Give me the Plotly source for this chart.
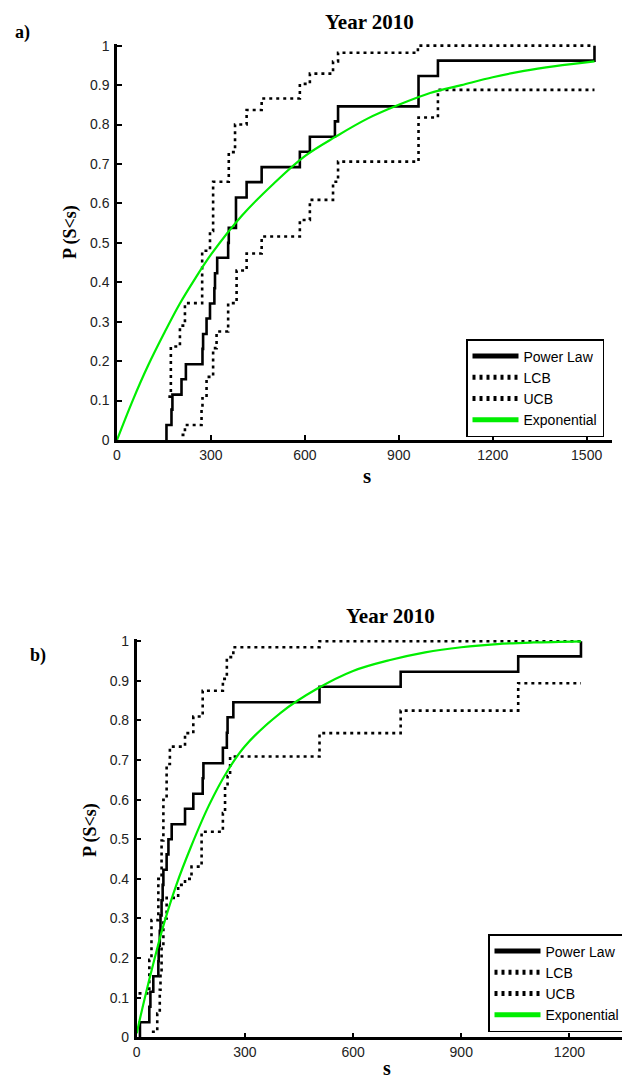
import plotly.graph_objects as go

# ---------------- Panel a) data ----------------
a_power_x = [158, 158, 174, 177, 206, 220, 273, 275, 286, 297, 311, 313, 320, 355, 357, 380, 414, 462, 584, 616, 696, 706, 963, 1025, 1525]
a_power_y = [0, 0.038, 0.077, 0.115, 0.154, 0.192, 0.231, 0.269, 0.308, 0.346, 0.385, 0.423, 0.462, 0.5, 0.538, 0.615, 0.654, 0.692, 0.731, 0.769, 0.808, 0.846, 0.923, 0.962, 1.0]

a_lcb_x = [206, 217, 270, 273, 286, 307, 318, 355, 382, 414, 462, 584, 616, 690, 706, 963, 1025, 1525]
a_lcb_y = [0.013, 0.038, 0.077, 0.106, 0.16, 0.233, 0.275, 0.347, 0.43, 0.473, 0.516, 0.558, 0.609, 0.655, 0.706, 0.818, 0.888, 0.888]

a_ucb_x = [164, 172, 201, 217, 272, 297, 307, 357, 377, 414, 462, 584, 616, 690, 706, 961, 1525]
a_ucb_y = [0.11, 0.237, 0.29, 0.347, 0.48, 0.53, 0.655, 0.73, 0.80, 0.837, 0.866, 0.903, 0.929, 0.96, 0.982, 1.0, 1.0]

a_exp_x = [0, 50, 100, 150, 200, 250, 300, 400, 500, 600, 700, 800, 900, 1000, 1100, 1200, 1300, 1400, 1525]
a_exp_y = [0, 0.10, 0.19, 0.27, 0.345, 0.41, 0.47, 0.57, 0.65, 0.72, 0.77, 0.815, 0.85, 0.88, 0.90, 0.92, 0.936, 0.948, 0.96]

# ---------------- Panel b) data ----------------
b_power_x = [9, 9, 35, 38, 46, 60, 61, 64, 66, 69, 72, 74, 83, 88, 97, 134, 157, 183, 185, 239, 250, 252, 268, 507, 732, 1058, 1232]
b_power_y = [0, 0.038, 0.077, 0.115, 0.154, 0.192, 0.231, 0.269, 0.308, 0.346, 0.385, 0.423, 0.462, 0.5, 0.538, 0.577, 0.615, 0.654, 0.692, 0.731, 0.769, 0.808, 0.846, 0.885, 0.923, 0.962, 1.0]

b_lcb_x = [42, 57, 64, 66, 69, 74, 83, 115, 134, 152, 180, 239, 245, 252, 259, 507, 732, 1058, 1232]
b_lcb_y = [0.014, 0.06, 0.12, 0.16, 0.23, 0.30, 0.352, 0.385, 0.40, 0.431, 0.519, 0.566, 0.633, 0.66, 0.709, 0.768, 0.825, 0.894, 0.894]

b_ucb_x = [5, 35, 41, 60, 69, 74, 83, 92, 134, 157, 183, 239, 250, 268, 507, 1232]
b_ucb_y = [0.111, 0.196, 0.296, 0.40, 0.497, 0.60, 0.69, 0.734, 0.768, 0.81, 0.875, 0.905, 0.96, 0.985, 1.0, 1.0]

b_exp_x = [0, 20, 50, 75, 110, 150, 200, 250, 300, 400, 500, 600, 700, 800, 900, 1000, 1100, 1232]
b_exp_y = [0.01, 0.09, 0.2, 0.285, 0.385, 0.48, 0.585, 0.67, 0.735, 0.82, 0.88, 0.925, 0.952, 0.972, 0.985, 0.993, 0.997, 1.0]

series_names = ["Power Law", "LCB", "UCB", "Exponential"]
a_ticks_x = [0, 300, 600, 900, 1200, 1500]
b_ticks_x = [0, 300, 600, 900, 1200]
ticks_y = [0, 0.1, 0.2, 0.3, 0.4, 0.5, 0.6, 0.7, 0.8, 0.9, 1]
ticks_y_text = ["0", "0.1", "0.2", "0.3", "0.4", "0.5", "0.6", "0.7", "0.8", "0.9", "1"]

GREEN = "#00ee00"
DOT = "3px,4px"
SERIF = "Liberation Serif, Times New Roman, serif"
SANS = "Arial, Liberation Sans, sans-serif"

# page body adds an 8px margin: figure is laid out in page pixels minus that offset
OFF = 8
W, H = 630 - OFF, 1082 - OFF

def px(X):
    return (X - OFF) / W

def py(Y):
    return 1 - (Y - OFF) / H

fig = go.Figure()

def add_panel(pxs, pys, lx, ly, ux, uy, ex, ey, xa, ya, leg):
    fig.add_trace(go.Scatter(x=pxs, y=pys, mode="lines", line=dict(color="black", width=2.6, shape="hv"),
                             name=series_names[0], xaxis=xa, yaxis=ya, legend=leg))
    fig.add_trace(go.Scatter(x=lx, y=ly, mode="lines", line=dict(color="black", width=2.6, shape="hv", dash=DOT),
                             name=series_names[1], xaxis=xa, yaxis=ya, legend=leg))
    fig.add_trace(go.Scatter(x=ux, y=uy, mode="lines", line=dict(color="black", width=2.6, shape="hv", dash=DOT),
                             name=series_names[2], xaxis=xa, yaxis=ya, legend=leg))
    fig.add_trace(go.Scatter(x=ex, y=ey, mode="lines", line=dict(color=GREEN, width=2.2, shape="spline"),
                             name=series_names[3], xaxis=xa, yaxis=ya, legend=leg))

add_panel(a_power_x, a_power_y, a_lcb_x, a_lcb_y, a_ucb_x, a_ucb_y, a_exp_x, a_exp_y, "x", "y", "legend")
add_panel(b_power_x, b_power_y, b_lcb_x, b_lcb_y, b_ucb_x, b_ucb_y, b_exp_x, b_exp_y, "x2", "y2", "legend2")

axis_common = dict(showline=True, linecolor="black", linewidth=2.5, ticks="inside", ticklen=5,
                   tickwidth=2, tickcolor="black", showgrid=False, zeroline=False, automargin=False,
                   tickfont=dict(family=SANS, size=14, color="#222"))

legend_common = dict(bgcolor="white", bordercolor="black", borderwidth=1.5,
                     font=dict(family=SANS, size=14, color="black"),
                     tracegroupgap=0, itemsizing="constant", itemwidth=46)

fig.update_layout(
    width=W, height=H, autosize=False,
    margin=dict(l=0, r=0, t=0, b=0, pad=0, autoexpand=False),
    paper_bgcolor="white", plot_bgcolor="white",
    xaxis=dict(domain=[px(117), px(611.7)], range=[0, 1580], tickvals=a_ticks_x, anchor="y", **axis_common),
    yaxis=dict(domain=[py(440), py(43.7)], range=[0, 1.005], tickvals=ticks_y, ticktext=ticks_y_text,
               anchor="x", ticklabelstandoff=2, **axis_common),
    xaxis2=dict(domain=[px(136.7), 1.0], range=[0, 1368], tickvals=b_ticks_x, anchor="y2", **axis_common),
    yaxis2=dict(domain=[py(1037.3), py(639.3)], range=[0, 1.005], tickvals=ticks_y, ticktext=ticks_y_text,
                anchor="x2", ticklabelstandoff=2, **axis_common),
    legend=dict(x=px(466), y=py(339), xanchor="left", yanchor="top", **legend_common),
    legend2=dict(x=px(488), y=py(934), xanchor="left", yanchor="top", **legend_common),
    showlegend=True,
)

def ann(text, X, Y, size, angle=0):
    fig.add_annotation(text=text, x=px(X), y=py(Y), xref="paper", yref="paper", showarrow=False,
                       xanchor="center", yanchor="middle", textangle=angle,
                       font=dict(family=SERIF, size=size, color="black"))

ann("<b>Year 2010</b>", 369, 22, 21)
ann("<b>Year 2010</b>", 390, 616, 21)
ann("<b>a)</b>", 23, 33, 18)
ann("<b>b)</b>", 38, 655, 18)
ann("<b>P (S&lt;s)</b>", 70, 232, 18, -90)
ann("<b>P (S&lt;s)</b>", 90, 830, 18, -90)
ann("<b>s</b>", 366.7, 476, 21)
ann("<b>s</b>", 386.7, 1068, 20)

fig.write_html("out.html")
